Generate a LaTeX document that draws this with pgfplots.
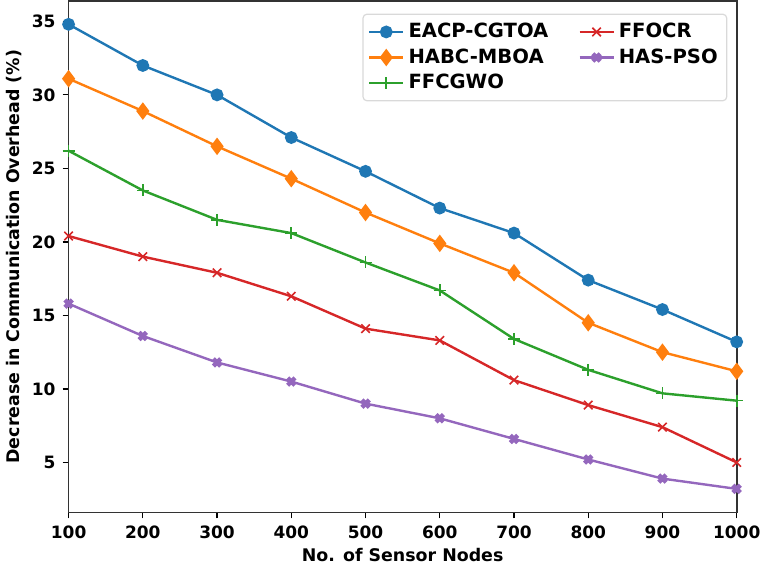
\documentclass[border=0pt]{standalone}
\usepackage{pgfplots}
\pgfplotsset{compat=1.18}
\usepackage{fontspec}
\setmainfont{DejaVu Sans}
\definecolor{mblue}{HTML}{1F77B4}
\definecolor{morange}{HTML}{FF7F0E}
\definecolor{mgreen}{HTML}{2CA02C}
\definecolor{mred}{HTML}{D62728}
\definecolor{mpurple}{HTML}{9467BD}

\begin{document}
\begin{tikzpicture}
\begin{axis}[
    width=333bp, height=255bp,
    scale only axis,
    xmin=100, xmax=1000,
    ymin=1.6, ymax=36.4,
    xtick={100,200,...,1000},
    ytick={5,10,...,35},
    tick align=outside,
    xtick pos=bottom, ytick pos=left,
    major tick length=3pt,
    tick style={black, line width=0.6pt},
    axis line style={line width=0.8pt, black!80},
    /pgf/number format/assume math mode=true,
    /pgf/number format/set thousands separator={},
    ticklabel style={font=\fontsize{8.5}{10}\selectfont\bfseries},
    xlabel={\bfseries No. of Sensor Nodes},
    ylabel={\bfseries Decrease in Communication Overhead (\%)},
    label style={font=\fontsize{8.7}{10}\selectfont},
    xlabel style={yshift=2pt},
    ylabel style={yshift=-2pt},
    legend columns=2,
    legend cell align=left,
    legend style={at={(rel axis cs:0.986,0.975)}, anchor=north east,
        font=\fontsize{9.8}{12}\selectfont\bfseries,
        draw=black!15, rounded corners=2pt, line width=0.6pt,
        /tikz/every even column/.append style={column sep=13pt},
        inner sep=2.5pt},
    legend image code/.code={\draw[mark repeat=2,mark phase=2] plot coordinates {(0cm,0cm) (0.3cm,0cm) (0.6cm,0cm)};},
    every axis plot/.append style={line width=1.2pt},
]
% legend images in the column order of the reference
\addlegendimage{mblue, line width=1.2pt, mark=*, mark size=2.6pt}
\addlegendentry{EACP-CGTOA}
\addlegendimage{mred, line width=1.2pt, mark=x, mark size=3pt, mark options={line width=0.8pt}}
\addlegendentry{FFOCR}
\addlegendimage{morange, line width=1.2pt, mark=diamond*, mark size=3.4pt}
\addlegendentry{HABC-MBOA}
\addlegendimage{mpurple, line width=1.2pt, mark=x, mark size=2.6pt, mark options={line width=2.2pt}}
\addlegendentry{HAS-PSO}
\addlegendimage{mgreen, line width=1.2pt, mark=+, mark size=3pt, mark options={line width=0.8pt}}
\addlegendentry{FFCGWO}

\addplot[forget plot, mblue, mark=*, mark size=2.6pt] coordinates {
(100,34.8) (200,32.0) (300,30.0) (400,27.1) (500,24.8) (600,22.3) (700,20.6) (800,17.4) (900,15.4) (1000,13.2)};
\addplot[forget plot, morange, mark=diamond*, mark size=3.4pt] coordinates {
(100,31.1) (200,28.9) (300,26.5) (400,24.3) (500,22.0) (600,19.9) (700,17.9) (800,14.5) (900,12.5) (1000,11.2)};
\addplot[forget plot, mgreen, mark=+, mark size=3pt, mark options={line width=0.8pt}] coordinates {
(100,26.2) (200,23.5) (300,21.5) (400,20.6) (500,18.6) (600,16.7) (700,13.4) (800,11.3) (900,9.7) (1000,9.2)};
\addplot[forget plot, mred, mark=x, mark size=3pt, mark options={line width=0.8pt}] coordinates {
(100,20.4) (200,19.0) (300,17.9) (400,16.3) (500,14.1) (600,13.3) (700,10.6) (800,8.9) (900,7.4) (1000,5.0)};
\addplot[forget plot, mpurple, mark=x, mark size=2.6pt, mark options={line width=2.2pt}] coordinates {
(100,15.8) (200,13.6) (300,11.8) (400,10.5) (500,9.0) (600,8.0) (700,6.6) (800,5.2) (900,3.9) (1000,3.2)};
\end{axis}
\end{tikzpicture}
\end{document}
